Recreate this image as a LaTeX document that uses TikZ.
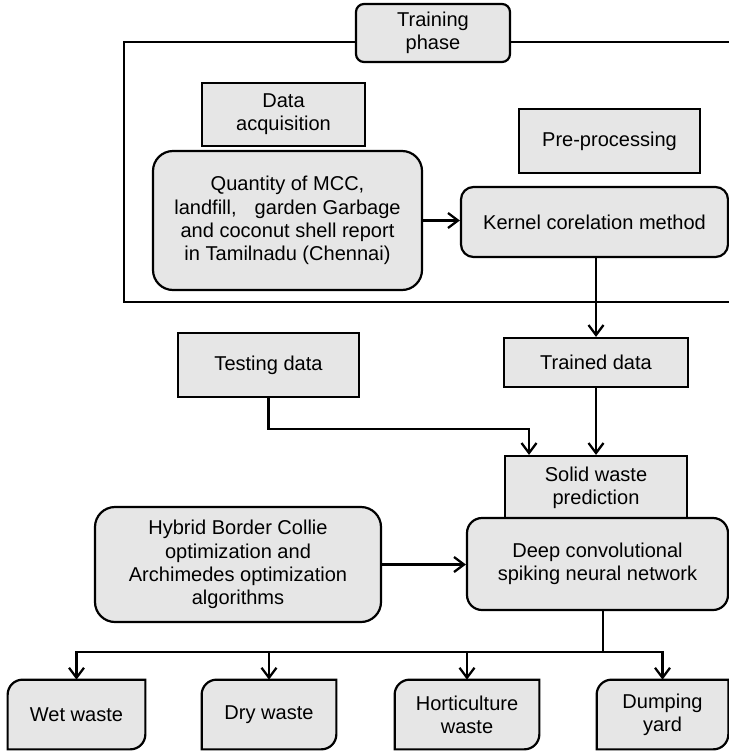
\documentclass[tikz,border=0pt]{standalone}
\usepackage{fontspec}
\setmainfont{Liberation Sans}
\usetikzlibrary{arrows.meta, backgrounds, calc}
\definecolor{boxgray}{HTML}{E6E6E6}

\begin{document}
\begin{tikzpicture}[
    every node/.style={font=\fontsize{11.4}{13.2}\selectfont, align=center},
    sqbox/.style={draw, line width=1.25pt, fill=boxgray, inner sep=2pt},
    rbox/.style={sqbox, rounded corners=#1},
    rbox/.default=0.3cm,
    leaf/.style={inner sep=2pt, minimum height=1.38cm},
    link/.style={line width=1.3pt},
    >={Straight Barb[length=2mm, width=3mm]},
  ]
  \useasboundingbox (0,0) rectangle (14.58,-15.04);

  % training frame (runs off the right edge)
  \draw[link] (14.58,-0.84) -- (2.48,-0.84) -- (2.48,-6.04) -- (14.58,-6.04);

  \node[rbox=0.16cm, minimum width=3.08cm, minimum height=1.16cm] (train) at (8.66,-0.66) {Training\\phase};
  \node[sqbox, minimum width=3.26cm, minimum height=1.26cm] (acq) at (5.67,-2.29) {Data\\acquisition};
  \node[rbox=0.4cm, minimum width=5.38cm, minimum height=2.78cm] (quant) at (5.75,-4.41)
    {Quantity of MCC,\\landfill,\hspace{0.9em}garden Garbage\\and coconut shell report\\in Tamilnadu (Chennai)};
  \node[sqbox, minimum width=3.62cm, minimum height=1.28cm] (pre) at (12.19,-2.82) {Pre-processing};
  \node[rbox=0.25cm, minimum width=5.34cm, minimum height=1.40cm] (kern) at (11.89,-4.44) {Kernel corelation method};

  \node[sqbox, minimum width=3.62cm, minimum height=1.28cm] (test) at (5.37,-7.30) {Testing data};
  \node[sqbox, minimum width=3.68cm, minimum height=0.98cm] (trained) at (11.92,-7.25) {Trained data};
  \node[sqbox, minimum width=3.64cm, minimum height=1.28cm] (solid) at (11.92,-9.76) {Solid waste\\prediction};
  \node[rbox, minimum width=5.22cm, minimum height=1.84cm] (deep) at (11.95,-11.28) {Deep convolutional\\spiking neural network};
  \node[rbox=0.4cm, minimum width=5.72cm, minimum height=2.30cm] (hyb) at (4.76,-11.29)
    {Hybrid Border Collie\\optimization and\\Archimedes optimization\\algorithms};

  \node[leaf, minimum width=2.74cm] (wet)  at (1.53,-14.29)  {Wet waste};
  \node[leaf, minimum width=2.68cm] (dry)  at (5.38,-14.29)  {Dry waste};
  \node[leaf, minimum width=2.88cm] (hort) at (9.34,-14.29)  {Horticulture\\waste};
  \node[leaf, minimum width=2.62cm] (dump) at (13.25,-14.29) {Dumping\\yard};

  % outputs: only top left and bottom right corners rounded
  \begin{scope}[on background layer]
    \foreach \n in {wet,dry,hort,dump} {
      \draw[line width=1.25pt, fill=boxgray]
        (\n.north east) -- ($(\n.north west)+(0.3,0)$)
        arc[start angle=90, end angle=180, radius=0.3]
        -- (\n.south west) -- ($(\n.south east)-(0.3,0)$)
        arc[start angle=270, end angle=360, radius=0.3] -- cycle;
    }
  \end{scope}

  \coordinate (tbend) at (10.58,-8.58);
  \coordinate (split) at (12.06,-13.04);

  \draw[link, ->] (quant.east) -- (quant.east -| kern.west);
  \draw[link, ->] (trained.north |- kern.south) -- (trained.north);
  \draw[link, ->] (trained) -- (solid);
  \draw[link, ->] (test.south) |- (tbend) -- (tbend |- solid.north);
  \draw[link, ->] (hyb.east) -- (hyb.east -| deep.west);
  \draw[link] (deep.south -| split) -- (split);
  \foreach \n in {wet,dry,hort,dump}
    \draw[link, ->] (split) -| (\n.north);
\end{tikzpicture}
\end{document}
